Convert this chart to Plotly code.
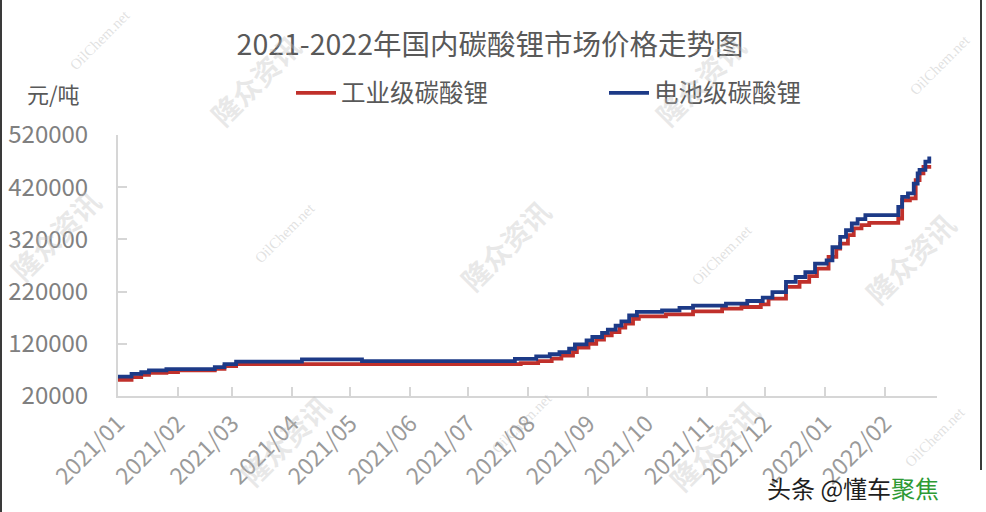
import plotly.graph_objects as go

# ---------------- data ----------------
industrial_dates = [
    "2021-01-01", "2021-01-08", "2021-01-13", "2021-01-17", "2021-01-26", "2021-02-01",
    "2021-02-20", "2021-02-25", "2021-03-03", "2021-07-28", "2021-08-06", "2021-08-13",
    "2021-08-18", "2021-08-24", "2021-08-26", "2021-09-01", "2021-09-05", "2021-09-09",
    "2021-09-13", "2021-09-17", "2021-09-20", "2021-09-24", "2021-09-27", "2021-10-11",
    "2021-10-25", "2021-11-09", "2021-11-19", "2021-11-29", "2021-12-03", "2021-12-12",
    "2021-12-19", "2021-12-24", "2021-12-28", "2022-01-03", "2022-01-07", "2022-01-09",
    "2022-01-13", "2022-01-16", "2022-01-20", "2022-01-24", "2022-02-08", "2022-02-10",
    "2022-02-14", "2022-02-17", "2022-02-19", "2022-02-21", "2022-02-25",
]
industrial_values = [
    51000, 56000, 60500, 64500, 66000, 69000,
    72000, 77500, 81000, 83000, 87000, 91500,
    97500, 104000, 112500, 120000, 128000, 136000,
    142500, 151000, 158500, 168000, 172500, 176500,
    182000, 187500, 190500, 195500, 206500, 229000,
    238500, 249500, 264000, 286500, 302500, 312000,
    328000, 341000, 347500, 351500, 360000, 395000,
    398500, 433500, 446500, 459000, 459000,
]

battery_dates = [
    "2021-01-01", "2021-01-08", "2021-01-13", "2021-01-17", "2021-01-26", "2021-02-20",
    "2021-02-25", "2021-03-03", "2021-04-06", "2021-05-07", "2021-07-25", "2021-08-05",
    "2021-08-12", "2021-08-17", "2021-08-22", "2021-08-25", "2021-08-31", "2021-09-03",
    "2021-09-08", "2021-09-11", "2021-09-15", "2021-09-18", "2021-09-22", "2021-09-26",
    "2021-10-09", "2021-10-18", "2021-10-25", "2021-11-11", "2021-11-22", "2021-11-30",
    "2021-12-05", "2021-12-12", "2021-12-17", "2021-12-22", "2021-12-27", "2022-01-02",
    "2022-01-05", "2022-01-09", "2022-01-12", "2022-01-15", "2022-01-18", "2022-01-22",
    "2022-02-08", "2022-02-10", "2022-02-13", "2022-02-16", "2022-02-18", "2022-02-19",
    "2022-02-22", "2022-02-24", "2022-02-25",
]
battery_values = [
    57000, 62500, 65500, 69000, 71500, 75500,
    81000, 86000, 90000, 87000, 91000, 96000,
    100000, 104000, 110500, 119000, 126500, 133000,
    141000, 147000, 155000, 163000, 174500, 181000,
    184000, 189000, 193000, 197000, 202000, 208500,
    219000, 238500, 248000, 257500, 273500, 280000,
    305000, 325000, 337500, 350500, 359000, 366500,
    382500, 401500, 408000, 427000, 446500, 453000,
    469000, 475000, 475000,
]

series_names = ["工业级碳酸锂", "电池级碳酸锂"]
y_ticks = [20000, 120000, 220000, 320000, 420000, 520000]
title_text = "2021-2022年国内碳酸锂市场价格走势图"
unit_text = "元/吨"

FONT = "Noto Sans CJK SC"

fig = go.Figure()
fig.add_trace(go.Scatter(
    x=industrial_dates, y=industrial_values, name=series_names[0],
    mode="lines", line=dict(color="#C0302B", width=3.8, shape="hv"),
))
fig.add_trace(go.Scatter(
    x=battery_dates, y=battery_values, name=series_names[1],
    mode="lines", line=dict(color="#1D3A87", width=3.8, shape="hv"),
))

axis_col = "#D6D6D6"
fig.update_layout(
    width=986, height=512,
    margin=dict(l=118, r=49, t=135, b=116, autoexpand=False),
    paper_bgcolor="white", plot_bgcolor="white",
    font=dict(family=FONT, color="#7F7F7F"),
    title=dict(text=title_text, x=0.497, xanchor="center", y=0.912, yanchor="middle",
               font=dict(family=FONT, size=28.5, color="#595959")),
    showlegend=True,
    legend=dict(orientation="h", x=(291 - 118) / 819, xanchor="left",
                y=(396 - 93) / 261, yanchor="middle",
                font=dict(family=FONT, size=24.5, color="#595959"),
                entrywidth=258, bgcolor="rgba(0,0,0,0)", itemwidth=40),
    xaxis=dict(
        type="date", range=["2021-01-01", "2022-02-28"],
        tick0="2021-01-01", dtick="M1", tickformat="%Y/%m",
        tickangle=-45, showgrid=False, zeroline=False, automargin=False,
        showline=True, linecolor=axis_col, linewidth=2,
        ticks="inside", ticklen=9, tickcolor=axis_col, tickwidth=2,
        tickfont=dict(family=FONT, size=23, color="#9A9A9A"),
        ticklabelstandoff=3,
    ),
    yaxis=dict(
        range=[20000, 520000], tickvals=y_ticks, automargin=False,
        showgrid=False, zeroline=False,
        showline=True, linecolor=axis_col, linewidth=2,
        ticks="inside", ticklen=9, tickcolor=axis_col, tickwidth=2,
        tickfont=dict(family=FONT, size=24, color="#808080"),
        ticklabelstandoff=23, tickformat="d",
    ),
)

annotations = [
    dict(text=unit_text, xref="paper", yref="paper", x=(25 - 118) / 819, y=(396 - 93) / 261,
         xanchor="left", yanchor="middle", showarrow=False,
         font=dict(family=FONT, size=22, color="#595959")),
    dict(text='头条 @懂车<span style="color:#2E9A34">聚焦</span>', xref="paper", yref="paper",
         x=(765 - 118) / 819, y=(396 - 487) / 261, xanchor="left", yanchor="middle",
         showarrow=False, font=dict(family=FONT, size=24, color="#1E1E1E")),
]

wm_cn = [(255, 80), (700, 80), (505, 245), (910, 258), (55, 235), (285, 440), (714, 445)]
wm_en = [(100, 40), (285, 233), (722, 255), (940, 65), (522, 423), (935, 437)]
for px, py in wm_cn:
    annotations.append(dict(text="<b>隆众资讯</b>", xref="paper", yref="paper",
                            x=(px - 118) / 819, y=(396 - py) / 261, xanchor="center", yanchor="middle",
                            showarrow=False, textangle=-45,
                            font=dict(family=FONT, size=28, color="rgba(190,190,190,0.35)")))
for px, py in wm_en:
    annotations.append(dict(text="OilChem.net", xref="paper", yref="paper",
                            x=(px - 118) / 819, y=(396 - py) / 261, xanchor="center", yanchor="middle",
                            showarrow=False, textangle=-45,
                            font=dict(family="Liberation Serif", size=15, color="rgba(180,180,180,0.4)")))
fig.update_layout(annotations=annotations)

fig.add_shape(type="line", xref="paper", yref="paper",
              x0=(1 - 118) / 819, x1=(1 - 118) / 819, y0=(396 - 512) / 261, y1=(396 - 0) / 261,
              line=dict(color="#3A3A3A", width=2))
fig.add_shape(type="line", xref="paper", yref="paper",
              x0=(981 - 118) / 819, x1=(981 - 118) / 819, y0=(396 - 470) / 261, y1=(396 - 0) / 261,
              line=dict(color="#3A3A3A", width=2))

fig.write_html("out.html", config={"displayModeBar": False},
               post_script="document.body.style.margin='0px';document.body.style.overflow='hidden';")
